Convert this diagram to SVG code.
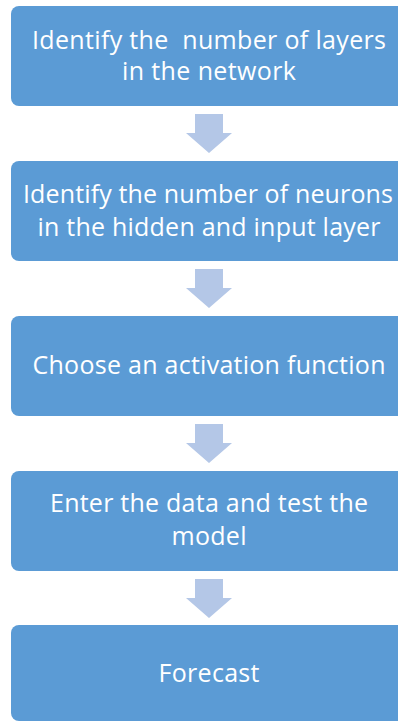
<svg xmlns="http://www.w3.org/2000/svg" width="398" height="723" viewBox="0 0 398 723">
  <style>
    .box { fill: #5B9BD5; }
    .arrow { fill: #B4C7E7; }
    .lbl { font-family: "Open Sans", "Noto Sans", "Liberation Sans", sans-serif; font-size: 25px; fill: #FFFFFF; text-anchor: middle; white-space: pre; }
  </style>
  <defs>
    <!-- block arrow pointing down, origin at top of shaft centre -->
    <path id="down" d="M -14 0 H 14 V 19 H 23 L 0 39 L -23 19 H -14 Z"/>
  </defs>
  <rect width="398" height="723" fill="#FFFFFF"/>

  <g id="connectors">
    <use href="#down" class="arrow" x="209" y="114"/>
    <use href="#down" class="arrow" x="209" y="269"/>
    <use href="#down" class="arrow" x="209" y="424"/>
    <use href="#down" class="arrow" x="209" y="579"/>
  </g>

  <g id="step1">
    <rect class="box" x="11" y="6" width="396" height="100" rx="8"/>
    <text class="lbl" x="209" y="49" textLength="354">Identify the  number of layers</text>
    <text class="lbl" x="209" y="80" textLength="174">in the network</text>
  </g>

  <g id="step2">
    <rect class="box" x="11" y="161" width="396" height="100" rx="8"/>
    <text class="lbl" x="208" y="203" textLength="370">Identify the number of neurons</text>
    <text class="lbl" x="209" y="236" textLength="343">in the hidden and input layer</text>
  </g>

  <g id="step3">
    <rect class="box" x="11" y="316" width="396" height="100" rx="8"/>
    <text class="lbl" x="209" y="374" textLength="353">Choose an activation function</text>
  </g>

  <g id="step4">
    <rect class="box" x="11" y="471" width="396" height="100" rx="8"/>
    <text class="lbl" x="209" y="512" textLength="318">Enter the data and test the</text>
    <text class="lbl" x="209" y="545" textLength="75">model</text>
  </g>

  <g id="step5">
    <rect class="box" x="11" y="625" width="396" height="96" rx="8"/>
    <text class="lbl" x="209" y="682" textLength="101">Forecast</text>
  </g>
</svg>
